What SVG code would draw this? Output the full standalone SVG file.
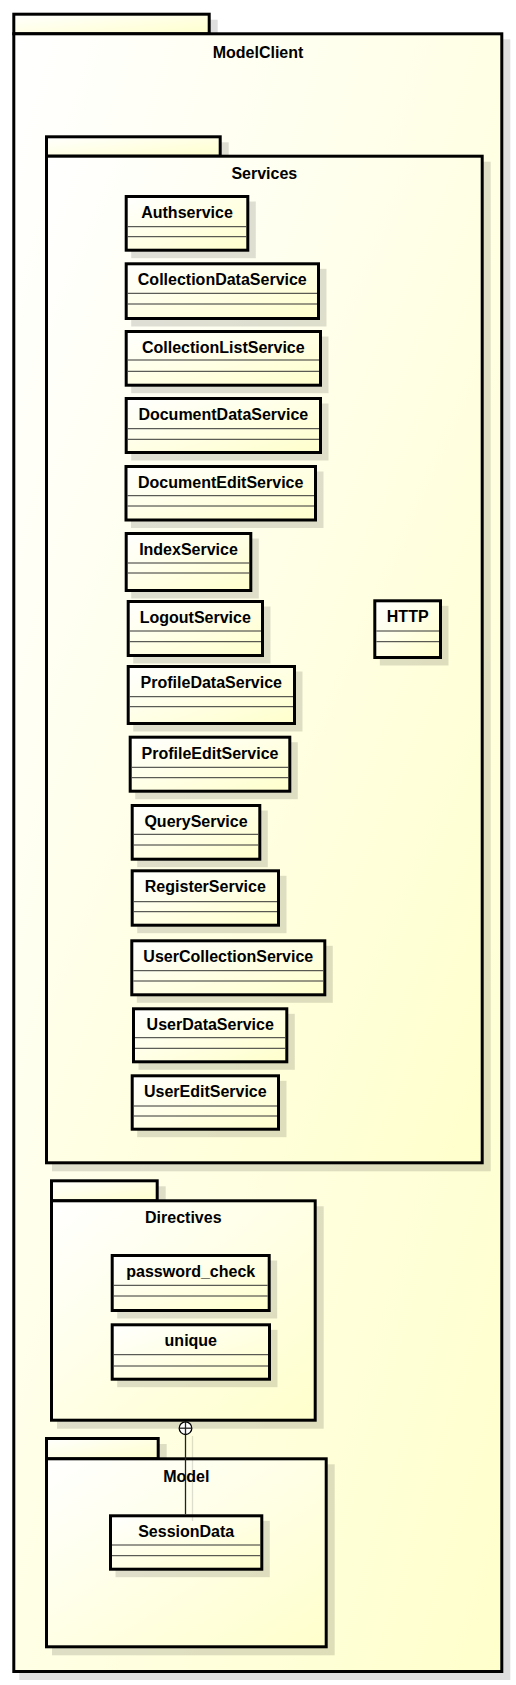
<svg xmlns="http://www.w3.org/2000/svg" width="516" height="1685" viewBox="0 0 516 1685">
<defs>
<linearGradient id="g" x1="0" y1="0" x2="1" y2="1">
<stop offset="0" stop-color="#FFFFFF"/>
<stop offset="1" stop-color="#FFFFCC"/>
</linearGradient>
<style>
.sh{fill:#000;fill-opacity:0.13;stroke:none}
.box{fill:url(#g);stroke:#000;stroke-width:3}
.cl{stroke:#333;stroke-width:1;fill:none}
.t{font-family:"Liberation Sans",Arial,sans-serif;font-weight:bold;font-size:16px;fill:#000;text-anchor:middle}
.conn{stroke:#222;stroke-width:1.3;fill:none}
.csh{stroke:#000;stroke-opacity:0.13;stroke-width:1.3;fill:none}
</style>
</defs>
<rect width="516" height="1685" fill="#FFFFFF"/>

<g id="pkg-ModelClient">
<rect class="sh" x="19.3" y="19.7" width="198.4" height="20"/>
<rect class="sh" x="19.3" y="39.3" width="491" height="1640.7"/>
<rect class="box" x="13.8" y="14.2" width="195.4" height="19.6"/>
<rect class="box" x="13.8" y="33.8" width="488" height="1637.7"/>
<text class="t" x="258" y="57.5">ModelClient</text>
</g>

<g id="pkg-Services">
<rect class="sh" x="52" y="142.3" width="176.7" height="20"/>
<rect class="sh" x="52" y="161.7" width="438.7" height="1009.6"/>
<rect class="box" x="46.5" y="136.8" width="173.7" height="19.4"/>
<rect class="box" x="46.5" y="156.2" width="435.7" height="1006.6"/>
<text class="t" x="264.3" y="179">Services</text>
</g>

<g id="Authservice">
<rect class="sh" x="131.2" y="201.5" width="124.6" height="56.7"/>
<rect class="box" x="126.2" y="196.5" width="121.6" height="53.7"/>
<line class="cl" x1="127.7" y1="226.7" x2="246.3" y2="226.7"/>
<line class="cl" x1="127.7" y1="236.7" x2="246.3" y2="236.7"/>
<text class="t" x="187" y="218">Authservice</text>
</g>

<g id="CollectionDataService">
<rect class="sh" x="131.2" y="268.8" width="195.3" height="57.7"/>
<rect class="box" x="126.2" y="263.8" width="192.3" height="54.7"/>
<line class="cl" x1="127.7" y1="293.3" x2="317" y2="293.3"/>
<line class="cl" x1="127.7" y1="304" x2="317" y2="304"/>
<text class="t" x="222.3" y="285.3">CollectionDataService</text>
</g>

<g id="CollectionListService">
<rect class="sh" x="131.2" y="336.5" width="197.3" height="56.7"/>
<rect class="box" x="126.2" y="331.5" width="194.3" height="53.7"/>
<line class="cl" x1="127.7" y1="360" x2="319" y2="360"/>
<line class="cl" x1="127.7" y1="371.3" x2="319" y2="371.3"/>
<text class="t" x="223.3" y="353">CollectionListService</text>
</g>

<g id="DocumentDataService">
<rect class="sh" x="131.2" y="403.5" width="197.3" height="57"/>
<rect class="box" x="126.2" y="398.5" width="194.3" height="54"/>
<line class="cl" x1="127.7" y1="428.7" x2="319" y2="428.7"/>
<line class="cl" x1="127.7" y1="439.3" x2="319" y2="439.3"/>
<text class="t" x="223.3" y="420">DocumentDataService</text>
</g>

<g id="DocumentEditService">
<rect class="sh" x="131" y="471.5" width="192.5" height="56.5"/>
<rect class="box" x="126" y="466.5" width="189.5" height="53.5"/>
<line class="cl" x1="127.5" y1="495.7" x2="314" y2="495.7"/>
<line class="cl" x1="127.5" y1="506" x2="314" y2="506"/>
<text class="t" x="220.7" y="488">DocumentEditService</text>
</g>

<g id="IndexService">
<rect class="sh" x="131.2" y="538.5" width="127.6" height="60"/>
<rect class="box" x="126.2" y="533.5" width="124.6" height="57"/>
<line class="cl" x1="127.7" y1="563" x2="249.3" y2="563"/>
<line class="cl" x1="127.7" y1="573" x2="249.3" y2="573"/>
<text class="t" x="188.5" y="555">IndexService</text>
</g>

<g id="LogoutService">
<rect class="sh" x="133.2" y="606.5" width="137.3" height="57"/>
<rect class="box" x="128.2" y="601.5" width="134.3" height="54"/>
<line class="cl" x1="129.7" y1="631" x2="261" y2="631"/>
<line class="cl" x1="129.7" y1="641.7" x2="261" y2="641.7"/>
<text class="t" x="195.3" y="623">LogoutService</text>
</g>

<g id="HTTP">
<rect class="sh" x="379.8" y="605.8" width="68.7" height="59.7"/>
<rect class="box" x="374.8" y="600.8" width="65.7" height="56.7"/>
<line class="cl" x1="376.3" y1="631" x2="439" y2="631"/>
<line class="cl" x1="376.3" y1="641.7" x2="439" y2="641.7"/>
<text class="t" x="407.7" y="622.3">HTTP</text>
</g>

<g id="ProfileDataService">
<rect class="sh" x="133.2" y="671.5" width="169.3" height="60"/>
<rect class="box" x="128.2" y="666.5" width="166.3" height="57"/>
<line class="cl" x1="129.7" y1="696.7" x2="293" y2="696.7"/>
<line class="cl" x1="129.7" y1="706.7" x2="293" y2="706.7"/>
<text class="t" x="211.3" y="688">ProfileDataService</text>
</g>

<g id="ProfileEditService">
<rect class="sh" x="135.2" y="742.2" width="162.6" height="57"/>
<rect class="box" x="130.2" y="737.2" width="159.6" height="54"/>
<line class="cl" x1="131.7" y1="767.3" x2="288.3" y2="767.3"/>
<line class="cl" x1="131.7" y1="777.7" x2="288.3" y2="777.7"/>
<text class="t" x="210" y="758.7">ProfileEditService</text>
</g>

<g id="QueryService">
<rect class="sh" x="137.2" y="810.5" width="130.6" height="56.7"/>
<rect class="box" x="132.2" y="805.5" width="127.6" height="53.7"/>
<line class="cl" x1="133.7" y1="834.3" x2="258.3" y2="834.3"/>
<line class="cl" x1="133.7" y1="845" x2="258.3" y2="845"/>
<text class="t" x="196" y="827">QueryService</text>
</g>

<g id="RegisterService">
<rect class="sh" x="137.2" y="875.8" width="149.3" height="57.4"/>
<rect class="box" x="132.2" y="870.8" width="146.3" height="54.4"/>
<line class="cl" x1="133.7" y1="901.7" x2="277" y2="901.7"/>
<line class="cl" x1="133.7" y1="911.7" x2="277" y2="911.7"/>
<text class="t" x="205.3" y="892.3">RegisterService</text>
</g>

<g id="UserCollectionService">
<rect class="sh" x="136.8" y="945.8" width="196" height="57"/>
<rect class="box" x="131.8" y="940.8" width="193" height="54"/>
<line class="cl" x1="133.3" y1="970.7" x2="323.3" y2="970.7"/>
<line class="cl" x1="133.3" y1="981" x2="323.3" y2="981"/>
<text class="t" x="228.3" y="962.3">UserCollectionService</text>
</g>

<g id="UserDataService">
<rect class="sh" x="138.5" y="1013.8" width="156.3" height="56"/>
<rect class="box" x="133.5" y="1008.8" width="153.3" height="53"/>
<line class="cl" x1="135" y1="1037.7" x2="285.3" y2="1037.7"/>
<line class="cl" x1="135" y1="1048.3" x2="285.3" y2="1048.3"/>
<text class="t" x="210.2" y="1030.3">UserDataService</text>
</g>

<g id="UserEditService">
<rect class="sh" x="137.2" y="1080.8" width="149.3" height="56.4"/>
<rect class="box" x="132.2" y="1075.8" width="146.3" height="53.4"/>
<line class="cl" x1="133.7" y1="1106" x2="277" y2="1106"/>
<line class="cl" x1="133.7" y1="1116" x2="277" y2="1116"/>
<text class="t" x="205.3" y="1097.3">UserEditService</text>
</g>

<g id="pkg-Directives">
<rect class="sh" x="57" y="1186.3" width="108.7" height="20"/>
<rect class="sh" x="57" y="1206.3" width="266.7" height="222.4"/>
<rect class="box" x="51.5" y="1180.8" width="105.7" height="20"/>
<rect class="box" x="51.5" y="1200.8" width="263.7" height="219.4"/>
<text class="t" x="183.3" y="1223">Directives</text>
</g>

<g id="password_check">
<rect class="sh" x="117.2" y="1260.5" width="160" height="58"/>
<rect class="box" x="112.2" y="1255.5" width="157" height="55"/>
<line class="cl" x1="113.7" y1="1285.3" x2="267.7" y2="1285.3"/>
<line class="cl" x1="113.7" y1="1296" x2="267.7" y2="1296"/>
<text class="t" x="190.7" y="1277">password_check</text>
</g>

<g id="unique">
<rect class="sh" x="117.2" y="1329.8" width="160.3" height="57.4"/>
<rect class="box" x="112.2" y="1324.8" width="157.3" height="54.4"/>
<line class="cl" x1="113.7" y1="1354.7" x2="268" y2="1354.7"/>
<line class="cl" x1="113.7" y1="1366" x2="268" y2="1366"/>
<text class="t" x="190.8" y="1346.3">unique</text>
</g>

<g id="pkg-Model">
<rect class="sh" x="52" y="1444" width="114.7" height="20.3"/>
<rect class="sh" x="52" y="1464.3" width="282.7" height="191"/>
<rect class="box" x="46.5" y="1438.5" width="111.7" height="20.3"/>
<rect class="box" x="46.5" y="1458.8" width="279.7" height="188"/>
<text class="t" x="186.3" y="1481.5">Model</text>
</g>

<g id="SessionData">
<rect class="sh" x="115.5" y="1520.8" width="154.3" height="56.4"/>
<rect class="box" x="110.5" y="1515.8" width="151.3" height="53.4"/>
<line class="cl" x1="112" y1="1545" x2="260.3" y2="1545"/>
<line class="cl" x1="112" y1="1555.7" x2="260.3" y2="1555.7"/>
<text class="t" x="186.2" y="1537">SessionData</text>
</g>

<g id="connectors">
<line class="csh" x1="192.5" y1="1436" x2="192.5" y2="1521"/>
<line class="conn" x1="185.5" y1="1434.5" x2="185.5" y2="1514.3"/>
<circle cx="185.5" cy="1428.2" r="6.3" fill="#FFFFFF" stroke="#000" stroke-width="1.3"/>
<line class="conn" x1="179.2" y1="1428.2" x2="191.8" y2="1428.2"/>
<line class="conn" x1="185.5" y1="1421.9" x2="185.5" y2="1434.5"/>
</g>
</svg>
